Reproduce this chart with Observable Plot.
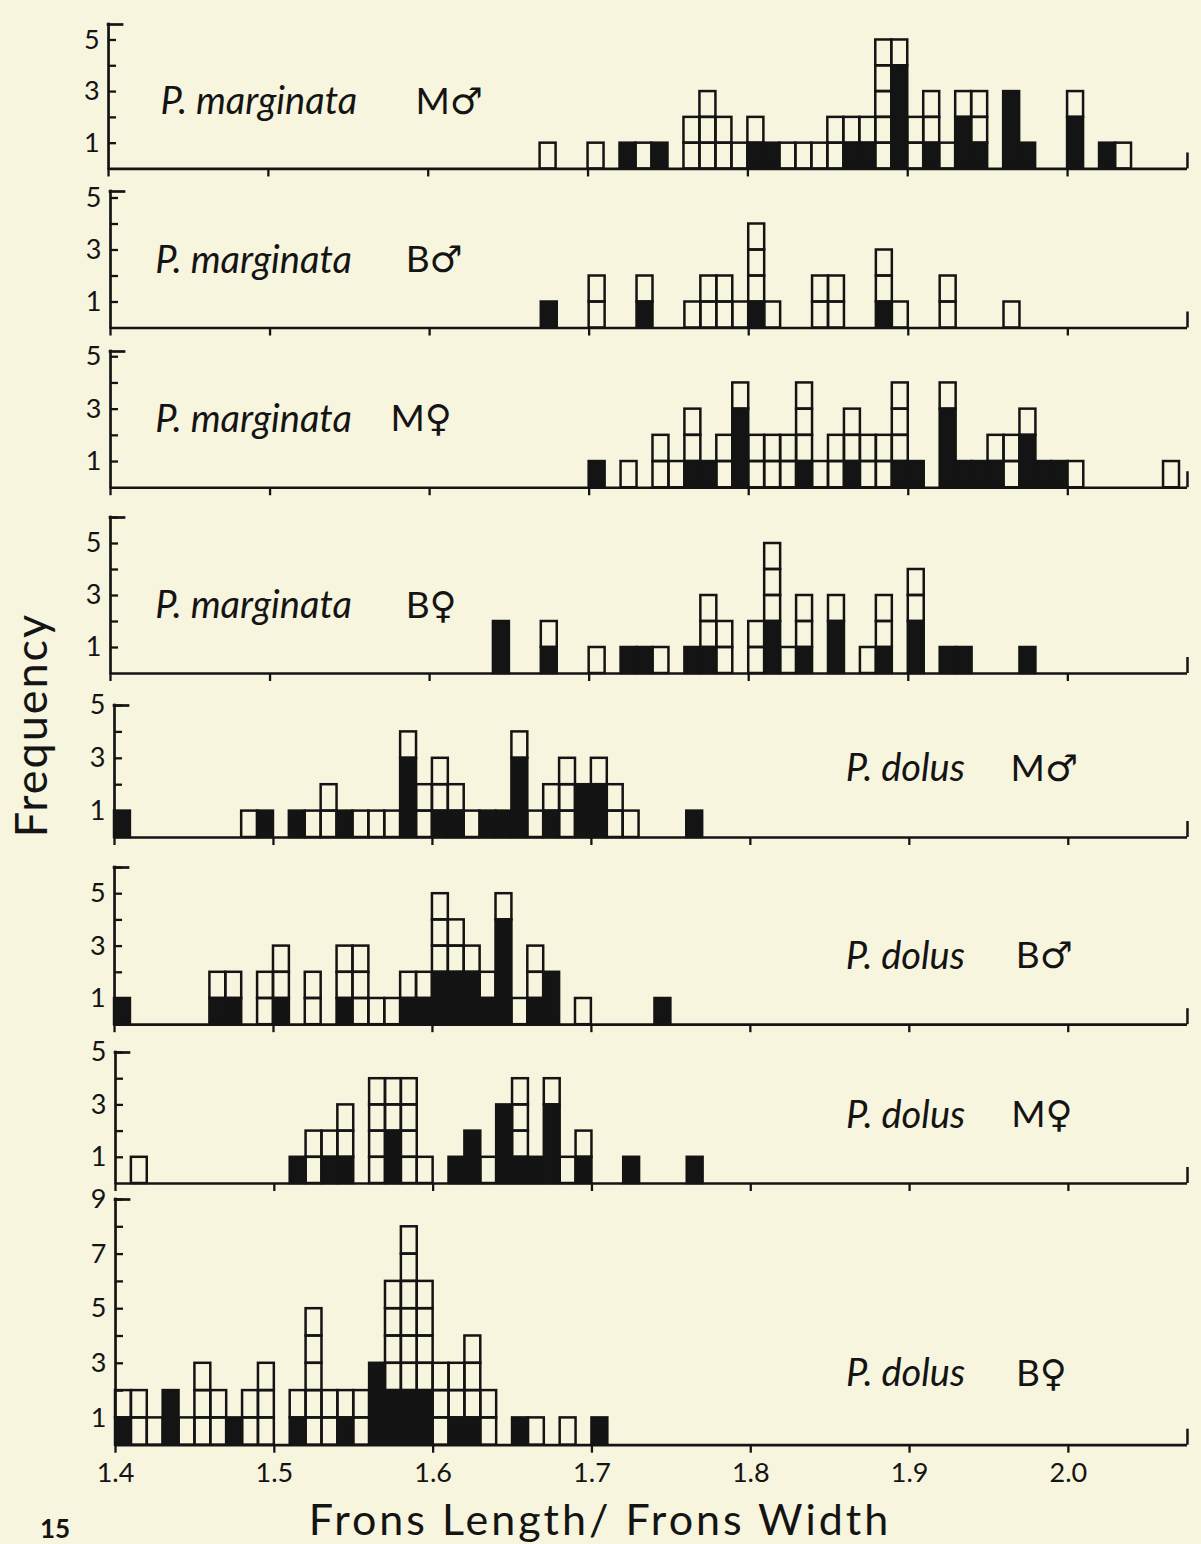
<!DOCTYPE html>
<html>
<head>
<meta charset="utf-8">
<script src="https://cdn.jsdelivr.net/npm/d3@7"></script>
<script src="https://cdn.jsdelivr.net/npm/@observablehq/plot@0.6"></script>
<style>
  html, body { margin: 0; padding: 0; background: #f7f5de; }
  #fig { position: relative; width: 1201px; height: 1544px; overflow: hidden; background: #f7f5de;
         font-family: Lato, "DejaVu Sans", sans-serif; color: #141414; }
  #fig svg { position: absolute; left: 0; overflow: visible; }
  .ytitle { position: absolute; left: 30px; top: 725px; transform: translate(-50%, -50%) rotate(-90deg);
            font-size: 45px; letter-spacing: 2px; white-space: nowrap; }
  .xtitle { position: absolute; left: 600px; top: 1518px; transform: translate(-50%, -50%);
            font-size: 43px; letter-spacing: 3px; white-space: nowrap; }
  .fignum { position: absolute; left: 40px; top: 1512px; font-size: 26px; font-weight: 700; }
</style>
</head>
<body>
<div id="fig"></div>
<script>
// ---------- data ----------
const binWidth = 0.01;
const xTicks = [1.4, 1.5, 1.6, 1.7, 1.8, 1.9, 2.0];
const xTickLabels = ["1.4", "1.5", "1.6", "1.7", "1.8", "1.9", "2.0"];
const species = ["P. marginata", "P. marginata", "P. marginata", "P. marginata",
                 "P. dolus", "P. dolus", "P. dolus", "P. dolus"];
const groups = ["M\u2642", "B\u2642", "M\u2640", "B\u2640", "M\u2642", "B\u2642", "M\u2640", "B\u2640"];
const yLabelsSmall = [1, 3, 5];
const yLabelsLarge = [1, 3, 5, 7, 9];

// P. marginata M♂
const pmMmX = [1.67,1.70,1.72,1.73,1.74,1.76,1.77,1.78,1.79,1.80,1.81,1.82,1.83,1.84,1.85,1.86,1.87,1.88,1.89,1.90,1.91,1.92,1.93,1.94,1.96,1.97,2.00,2.02,2.03];
const pmMmBlack = [0,0,1,0,1,0,0,0,0,1,1,0,0,0,0,1,1,0,4,0,1,0,2,1,3,1,2,1,0];
const pmMmWhite = [1,1,0,1,0,2,3,2,1,1,0,1,1,1,2,1,1,5,1,2,2,1,1,2,0,0,1,0,1];

// P. marginata B♂
const pmBmX = [1.67,1.70,1.73,1.76,1.77,1.78,1.79,1.80,1.81,1.84,1.85,1.88,1.89,1.92,1.96];
const pmBmBlack = [1,0,1,0,0,0,0,1,0,0,0,1,0,0,0];
const pmBmWhite = [0,2,1,1,2,2,1,3,1,2,2,2,1,2,1];

// P. marginata M♀
const pmMfX = [1.70,1.72,1.74,1.75,1.76,1.77,1.78,1.79,1.80,1.81,1.82,1.83,1.84,1.85,1.86,1.87,1.88,1.89,1.90,1.92,1.93,1.94,1.95,1.96,1.97,1.98,1.99,2.00,2.06];
const pmMfBlack = [1,0,0,0,1,1,0,3,0,0,0,1,0,0,1,0,0,1,1,3,1,1,1,0,2,1,1,0,0];
const pmMfWhite = [0,1,2,1,2,0,2,1,2,2,2,3,1,2,2,2,2,3,0,1,0,0,1,2,1,0,0,1,1];

// P. marginata B♀
const pmBfX = [1.64,1.67,1.70,1.72,1.73,1.74,1.76,1.77,1.78,1.80,1.81,1.82,1.83,1.85,1.87,1.88,1.90,1.92,1.93,1.97];
const pmBfBlack = [2,1,0,1,1,0,1,1,0,0,2,0,1,2,0,1,2,1,1,1];
const pmBfWhite = [0,1,1,0,0,1,0,2,2,2,3,1,2,1,1,2,2,0,0,0];

// P. dolus M♂
const pdMmX = [1.40,1.48,1.49,1.51,1.52,1.53,1.54,1.55,1.56,1.57,1.58,1.59,1.60,1.61,1.62,1.63,1.64,1.65,1.66,1.67,1.68,1.69,1.70,1.71,1.72,1.76];
const pdMmBlack = [1,0,1,1,0,0,1,0,0,0,3,0,1,1,0,1,1,3,0,1,0,2,2,0,0,1];
const pdMmWhite = [0,1,0,0,1,2,0,1,1,1,1,2,2,1,1,0,0,1,1,1,3,0,1,2,1,0];

// P. dolus B♂
const pdBmX = [1.40,1.46,1.47,1.49,1.50,1.52,1.54,1.55,1.56,1.57,1.58,1.59,1.60,1.61,1.62,1.63,1.64,1.65,1.66,1.67,1.69,1.74];
const pdBmBlack = [1,1,1,0,1,0,1,0,0,0,1,1,2,2,2,1,4,0,1,2,0,1];
const pdBmWhite = [0,1,1,2,2,2,2,3,1,1,1,1,3,2,1,1,1,1,2,0,1,0];

// P. dolus M♀
const pdMfX = [1.41,1.51,1.52,1.53,1.54,1.56,1.57,1.58,1.59,1.61,1.62,1.63,1.64,1.65,1.66,1.67,1.68,1.69,1.72,1.76];
const pdMfBlack = [0,1,0,1,1,0,2,0,0,1,2,0,3,1,1,3,0,1,1,1];
const pdMfWhite = [1,0,2,1,2,4,2,4,1,0,0,1,0,3,0,1,1,1,0,0];

// P. dolus B♀
const pdBfX = [1.40,1.41,1.42,1.43,1.44,1.45,1.46,1.47,1.48,1.49,1.51,1.52,1.53,1.54,1.55,1.56,1.57,1.58,1.59,1.60,1.61,1.62,1.63,1.65,1.66,1.68,1.70];
const pdBfBlack = [1,0,0,2,0,0,0,1,0,0,1,0,0,1,0,3,2,2,2,0,1,1,0,1,0,0,1];
const pdBfWhite = [1,2,1,0,1,3,2,0,2,3,1,5,2,1,2,0,4,6,4,3,2,3,2,0,1,1,0];

// ---------- layout (positions / sizes only) ----------
const ink = "#141414";
const W = 1201;
const xMax = 2.075;
const panels = [
  {xs: pmMmX, bl: pmMmBlack, wh: pmMmWhite, baseline: 168,  unit: 25.8, top: 5.6,  ml: 108, labelX: 1.4325, codeX: 1.592},
  {xs: pmBmX, bl: pmBmBlack, wh: pmBmWhite, baseline: 327,  unit: 26.0, top: 5.25, ml: 110, labelX: 1.428,  codeX: 1.585},
  {xs: pmMfX, bl: pmMfBlack, wh: pmMfWhite, baseline: 487,  unit: 26.2, top: 5.2,  ml: 110, labelX: 1.428,  codeX: 1.5755},
  {xs: pmBfX, bl: pmBfBlack, wh: pmBfWhite, baseline: 673,  unit: 26.0, top: 6,    ml: 110, labelX: 1.428,  codeX: 1.585},
  {xs: pdMmX, bl: pdMmBlack, wh: pdMmWhite, baseline: 837,  unit: 26.4, top: 5,    ml: 114, labelX: 1.86,   codeX: 1.9637},
  {xs: pdBmX, bl: pdBmBlack, wh: pdBmWhite, baseline: 1024, unit: 26.2, top: 6,    ml: 114, labelX: 1.86,   codeX: 1.967},
  {xs: pdMfX, bl: pdMfBlack, wh: pdMfWhite, baseline: 1183, unit: 26.2, top: 5,    ml: 115, labelX: 1.86,   codeX: 1.964},
  {xs: pdBfX, bl: pdBfBlack, wh: pdBfWhite, baseline: 1445, unit: 27.3, top: 9,    ml: 115, labelX: 1.86,   codeX: 1.967}
];

function buildCells(xs, blacks, whites) {
  const black = [], white = [];
  xs.forEach((x, i) => {
    const x2 = +(x + binWidth).toFixed(3);
    if (blacks[i] > 0) black.push({x1: x, x2, y1: 0, y2: blacks[i]});
    for (let j = 0; j < whites[i]; j++) white.push({x1: x, x2, y1: blacks[i] + j, y2: blacks[i] + j + 1});
  });
  return {black, white};
}

const fig = document.getElementById("fig");
const fontFamily = 'Lato, "DejaVu Sans", sans-serif';

panels.forEach((p, idx) => {
  const last = idx === panels.length - 1;
  const mt = 8, mb = last ? 52 : 14, mr = W - 1187;
  const innerH = p.top * p.unit;
  const plotW = W - p.ml - mr;
  const {black, white} = buildCells(p.xs, p.bl, p.wh);
  const yTicks = d3.range(1, Math.floor(p.top + 1e-9) + 1);
  const yLabels = last ? yLabelsLarge : yLabelsSmall;
  const sw = 2.5;
  const endTickH = 16 / p.unit;   // short upward tick at the right end of each baseline

  const marks = [
    Plot.rect(white, {x1: "x1", x2: "x2", y1: "y1", y2: "y2", inset: 0, fill: "none", stroke: ink, strokeWidth: sw}),
    Plot.rect(black, {x1: "x1", x2: "x2", y1: "y1", y2: "y2", inset: 0, fill: ink, stroke: ink, strokeWidth: sw}),
    Plot.ruleY([0], {stroke: ink, strokeWidth: 2.7}),
    Plot.ruleX([1.4], {y1: 0, y2: p.top, stroke: ink, strokeWidth: 2.7, strokeLinecap: "square"}),
    Plot.ruleY(yTicks, {stroke: ink, strokeWidth: 2.3, insetRight: plotW - 8}),
    Plot.ruleY([p.top], {stroke: ink, strokeWidth: 2.7, insetRight: plotW - 14, strokeLinecap: "square"}),
    Plot.ruleX([xMax], {y1: 0, y2: endTickH, stroke: ink, strokeWidth: 2.5}),
    Plot.tickX(xTicks, {x: d => d, frameAnchor: "bottom"}) && Plot.axisX({ticks: xTicks, tickSize: 8, strokeWidth: 2.3, stroke: ink, tickFormat: () => "", label: null}),
    Plot.text(yLabels, {y: d => d, text: d => String(d), frameAnchor: "left", dx: -9, textAnchor: "end",
                        fontSize: 27, fill: ink}),
    Plot.text([species[idx]], {x: () => p.labelX, y: () => 2.6, text: d => d, textAnchor: "start",
                fontSize: 38, fontStyle: "italic", fill: ink}),
    Plot.text([groups[idx]], {x: () => p.codeX, y: () => 2.6, text: d => d, textAnchor: "start",
                fontSize: 37, fill: ink})
  ];
  if (last) {
    marks.push(Plot.text(xTicks, {x: d => d, text: d => xTickLabels[xTicks.indexOf(d)], frameAnchor: "bottom",
                                  lineAnchor: "top", dy: 18, fontSize: 27, fill: ink}));
  }

  const chart = Plot.plot({
    width: W,
    height: mt + innerH + mb,
    marginLeft: p.ml, marginRight: mr, marginTop: mt, marginBottom: mb,
    x: {domain: [1.4, xMax], axis: null},
    y: {domain: [0, p.top], axis: null},
    style: {background: "transparent", fontFamily, color: ink, overflow: "visible"},
    marks
  });
  chart.style.top = (p.baseline - innerH - mt) + "px";
  fig.appendChild(chart);
});

const yt = document.createElement("div");
yt.className = "ytitle"; yt.textContent = "Frequency";
fig.appendChild(yt);
const xt = document.createElement("div");
xt.className = "xtitle"; xt.textContent = "Frons Length/ Frons Width";
fig.appendChild(xt);
const fn = document.createElement("div");
fn.className = "fignum"; fn.textContent = "15";
fig.appendChild(fn);
</script>
</body>
</html>
